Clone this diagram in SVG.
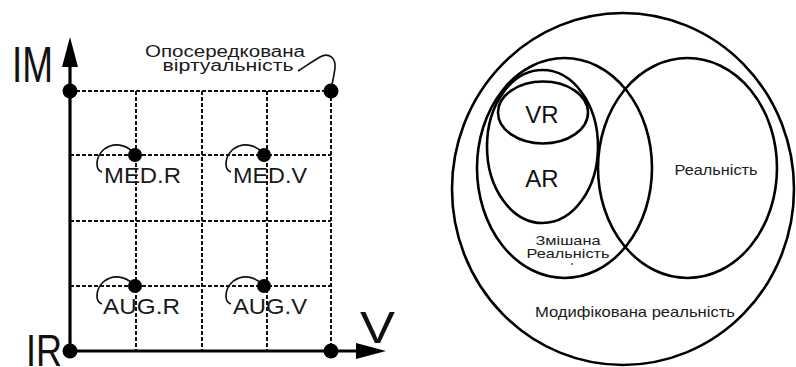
<svg xmlns="http://www.w3.org/2000/svg" width="796" height="367" viewBox="0 0 796 367">
<style>
.grid{stroke:#111;stroke-width:2;stroke-dasharray:4 2;fill:none}
.axis{stroke:#000;stroke-width:3.2;fill:none}
.dot{fill:#000}
.hook{stroke:#111;stroke-width:1.7;fill:none}
.ring{stroke:#000;stroke-width:2.6;fill:none}
.t{font-family:"Liberation Sans",Arial,sans-serif;fill:#1a1a1a}
.big{font-family:"Liberation Sans",Arial,sans-serif;fill:#111}
</style>
<rect width="796" height="367" fill="#fff"/>
<g id="grid">
<path class="grid" d="M70 91H331M70 155H331M70 221H331M70 286H331M136 91V351M202 91V351M267 91V351M331 91V351"/>
</g>
<g id="connectors">
<path class="axis" d="M70 352V62"/>
<polygon points="70,37 62,67 78,67" fill="#000"/>
<path class="axis" d="M70 351H360"/>
<polygon points="386,351 356,343 356,359" fill="#000"/>
<path class="hook" d="M298 71C306 66 313 61 320 57C329 52 336 58 335 68C334 76 332 84 331 90"/>
<path class="hook" d="M135 154C128 146 118 143 110 146C102 149 97 156 97 164C97 168 99 171 102 172"/>
<path class="hook" d="M264 154C257 146 247 143 239 146C231 149 226 156 226 164C226 168 228 171 231 172"/>
<path class="hook" d="M135 286C128 278 118 275 110 278C102 281 97 288 97 296C97 300 99 303 102 304"/>
<path class="hook" d="M264 286C257 278 247 275 239 278C231 281 226 288 226 296C226 300 228 303 231 304"/>
</g>
<g id="axis-labels">
<text class="big" x="12" y="82" font-size="50" textLength="41" lengthAdjust="spacingAndGlyphs">IM</text>
<text class="big" x="26" y="366" font-size="44" textLength="36" lengthAdjust="spacingAndGlyphs">IR</text>
<text class="big" x="360" y="343" font-size="45" textLength="35" lengthAdjust="spacingAndGlyphs">V</text>
</g>
<g id="node-origin"><circle class="dot" cx="70" cy="351" r="7.5"/></g>
<g id="node-im"><circle class="dot" cx="70" cy="91" r="7.5"/></g>
<g id="node-v"><circle class="dot" cx="331" cy="351" r="7.5"/></g>
<g id="node-mediated-virtuality">
<circle class="dot" cx="331" cy="91" r="7.5"/>
<text class="t" x="225" y="57" font-size="16" text-anchor="middle" textLength="160" lengthAdjust="spacingAndGlyphs">Опосередкована</text>
<text class="t" x="228" y="71" font-size="16" text-anchor="middle" textLength="131" lengthAdjust="spacingAndGlyphs">віртуальність</text>
</g>
<g id="node-med-r">
<circle class="dot" cx="135" cy="155" r="7"/>
<text class="t" x="104" y="183" font-size="22" textLength="77" lengthAdjust="spacingAndGlyphs">MED.R</text>
</g>
<g id="node-med-v">
<circle class="dot" cx="264" cy="155" r="7"/>
<text class="t" x="233" y="183" font-size="22" textLength="74" lengthAdjust="spacingAndGlyphs">MED.V</text>
</g>
<g id="node-aug-r">
<circle class="dot" cx="135" cy="286" r="7"/>
<text class="t" x="103" y="314" font-size="22" textLength="77" lengthAdjust="spacingAndGlyphs">AUG.R</text>
</g>
<g id="node-aug-v">
<circle class="dot" cx="264" cy="286" r="7"/>
<text class="t" x="233" y="314" font-size="22" textLength="74" lengthAdjust="spacingAndGlyphs">AUG.V</text>
</g>
<g id="node-modified-reality">
<ellipse class="ring" cx="623" cy="189" rx="171" ry="176"/>
<text class="t" x="635" y="317" font-size="15" text-anchor="middle" textLength="200" lengthAdjust="spacingAndGlyphs">Модифікована реальність</text>
</g>
<g id="node-mixed-reality">
<ellipse class="ring" cx="564.5" cy="168" rx="87.5" ry="110"/>
<text class="t" x="568" y="245" font-size="13" text-anchor="middle" textLength="65" lengthAdjust="spacingAndGlyphs">Змішана</text>
<text class="t" x="568" y="258" font-size="13" text-anchor="middle" textLength="83" lengthAdjust="spacingAndGlyphs">Реальність</text>
<circle cx="572" cy="264" r="1" fill="#555"/>
</g>
<g id="node-reality">
<ellipse class="ring" cx="687.5" cy="168" rx="89.5" ry="110"/>
<text class="t" x="716" y="175" font-size="15" text-anchor="middle" textLength="83" lengthAdjust="spacingAndGlyphs">Реальність</text>
</g>
<g id="node-ar">
<ellipse class="ring" cx="542.5" cy="146.5" rx="55.5" ry="76.5"/>
<text class="big" x="542" y="187" font-size="24" text-anchor="middle">AR</text>
</g>
<g id="node-vr">
<ellipse class="ring" cx="543" cy="112.5" rx="45" ry="31"/>
<text class="big" x="542" y="123" font-size="24" text-anchor="middle">VR</text>
</g>
</svg>
